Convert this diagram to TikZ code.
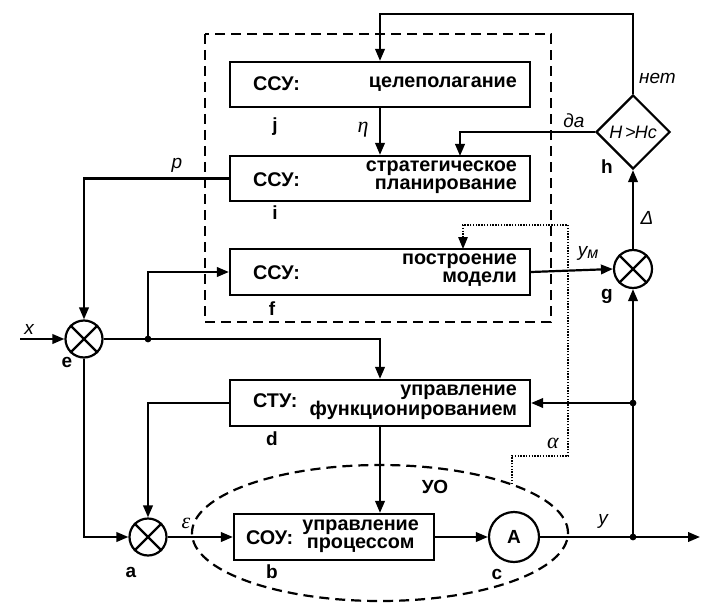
\documentclass[tikz,border=0pt]{standalone}
\usepackage{fontspec}
\setmainfont{Liberation Sans}
\newfontfamily\grkfont{Liberation Serif}
\usetikzlibrary{arrows.meta,shapes.geometric}

\begin{document}
\begin{tikzpicture}[x=1pt,y=-1pt,line width=2.2pt,
    >={Triangle[length=12pt,width=9.5pt]},
    blk/.style={draw,rectangle,inner sep=0pt,minimum width=300pt,minimum height=45pt},
    sum/.style={draw,circle,inner sep=0pt,minimum size=37pt},
    txt/.style={font=\fontsize{19.8}{17.5}\selectfont\bfseries,inner sep=0pt,align=right},
    lbl/.style={font=\fontsize{19}{19}\selectfont\bfseries,inner sep=0pt},
    sig/.style={font=\fontsize{19}{19}\selectfont\itshape,inner sep=0pt},
    grk/.style={font=\fontsize{22}{22}\selectfont\grkfont\itshape,inner sep=0pt}]
        \useasboundingbox (0,0) rectangle (703,604);
        % dashed frame
        \draw[dash pattern=on 10pt off 6pt] (205,34) rectangle (551,322);
        % blocks
        \node[blk] (j) at (380,84.5) {};
        \node[blk] (i) at (380,178.5) {};
        \node[blk,minimum height=46pt] (f) at (380,272) {};
        \node[blk,minimum height=46pt] (d) at (380,403) {};
        \node[blk,minimum width=200pt,minimum height=46pt] (b) at (334,537) {};
        \node[txt,anchor=west] (jl) at (252,84) {ССУ:};
        \node[txt,anchor=east] (jr) at (518,84) {целеполагание};
        \node[txt,anchor=west] (il) at (252,180) {ССУ:};
        \node[txt,anchor=east] (ir) at (518,177) {стратегическое\\планирование};
        \node[txt,anchor=west] (fl) at (252,273) {ССУ:};
        \node[txt,anchor=east] (fr) at (518,270) {построение\\модели};
        \node[txt,anchor=west] (dl) at (252,401) {СТУ:};
        \node[txt,anchor=east] (dr) at (518,402) {управление\\функционированием};
        \node[txt,anchor=west] (bl) at (245,538) {СОУ:};
        \node[txt,anchor=east,align=center] (br) at (420,536) {управление\\процессом};
        % summators
        \node[sum] (e) at (84,339) {};
        \node[sum] (a) at (148,537) {};
        \node[sum,minimum size=38pt] (g) at (633,269) {};
        \foreach \s in {e,a,g}{
            \draw (\s.45) -- (\s.225);\draw (\s.135) -- (\s.-45);
        }
        \node[draw,circle,inner sep=0pt,minimum size=50pt,lbl] (c) at (514,537) {A};
        \node[draw,diamond,inner sep=0pt,minimum size=74pt,sig,font=\fontsize{18}{18}\selectfont\itshape] (h) at (633,132) {H\,>\hspace{-1pt}Hc};
        % process ellipse
        \draw[dash pattern=on 10pt off 6pt] (380,533) ellipse [x radius=188pt,y radius=68pt];
        \node[lbl] (uo) at (435,487) {УО};
        % letters
        \node[lbl] (nj) at (275,127) {j};
        \node[lbl] (ni) at (275,213) {i};
        \node[lbl] (nf) at (272,309) {f};
        \node[lbl] (nd) at (272,439) {d};
        \node[lbl] (nb) at (272,572) {b};
        \node[lbl] (na) at (131,572) {a};
        \node[lbl] (nc) at (497,574) {c};
        \node[lbl] (ne) at (67,362) {e};
        \node[lbl] (ng) at (607,296) {g};
        \node[lbl] (nh) at (607,167) {h};
        % points
        \coordinate (xin) at (20,339);
        \coordinate (out) at (700,537);
        \coordinate (top) at (633,14);
        \coordinate (ida) at (460,156);
        \coordinate (n1) at (148,339);
        \coordinate (n2) at (633,537);
        \coordinate (n3) at (633,403);
        % connections
        \draw[->] (h.north) -- (top) -| (j.north);
        \draw[->] (h.west) -| (ida);
        \draw[->] (j.south) -- (i.north);
        \draw[->] (i.west) -| (e.north);
        \draw[->] (xin) -- (e.west);
        \draw[->] (e.east) -| (d.north);
        \draw[->] (n1) |- (f.west);
        \draw[->] (e.south) |- (a.west);
        \draw[->] (d.west) -| (a.north);
        \draw[->] (d.south) -- (d.south |- b.north);
        \draw[->] (a.east) -- (b.west);
        \draw[->] (b.east) -- (c.west);
        \draw[->] (c.east) -- (out);
        \draw[->] (n2) -- (g.south);
        \draw[->] (n3) -- (d.east);
        \draw[->] (f.east) -- (g.west);
        \draw[->] (g.north) -- (h.south);
        \fill (n1) circle (3.4pt);\fill (n2) circle (3.4pt);\fill (n3) circle (3.4pt);
        % alpha line
        \coordinate (al) at (512,484);
        \coordinate (fin) at (463,249);
        \draw[->,line width=1.4pt,dash pattern=on 1.4pt off 1.4pt] (al) |- (568,456) -- (568,225) -| (fin);
        % signals
        \node[sig] (tx) at (29,329) {x};
        \node[sig] (tp) at (177,165) {p};
        \node[grk] (teta) at (363,130) {η};
        \node[sig] (tda) at (574,121) {да};
        \node[sig,anchor=west] (tnet) at (638,78) {нет};
        \node[sig] (tym) at (588,253) {y\raisebox{-2pt}{\fontsize{16}{16}\selectfont м}};
        \node[sig] (tdel) at (647,218) {Δ};
        \node[grk] (teps) at (186,523) {ε};
        \node[sig] (ty) at (603,521) {y};
        \node[grk] (tal) at (553,443) {α};
\end{tikzpicture}
\end{document}
